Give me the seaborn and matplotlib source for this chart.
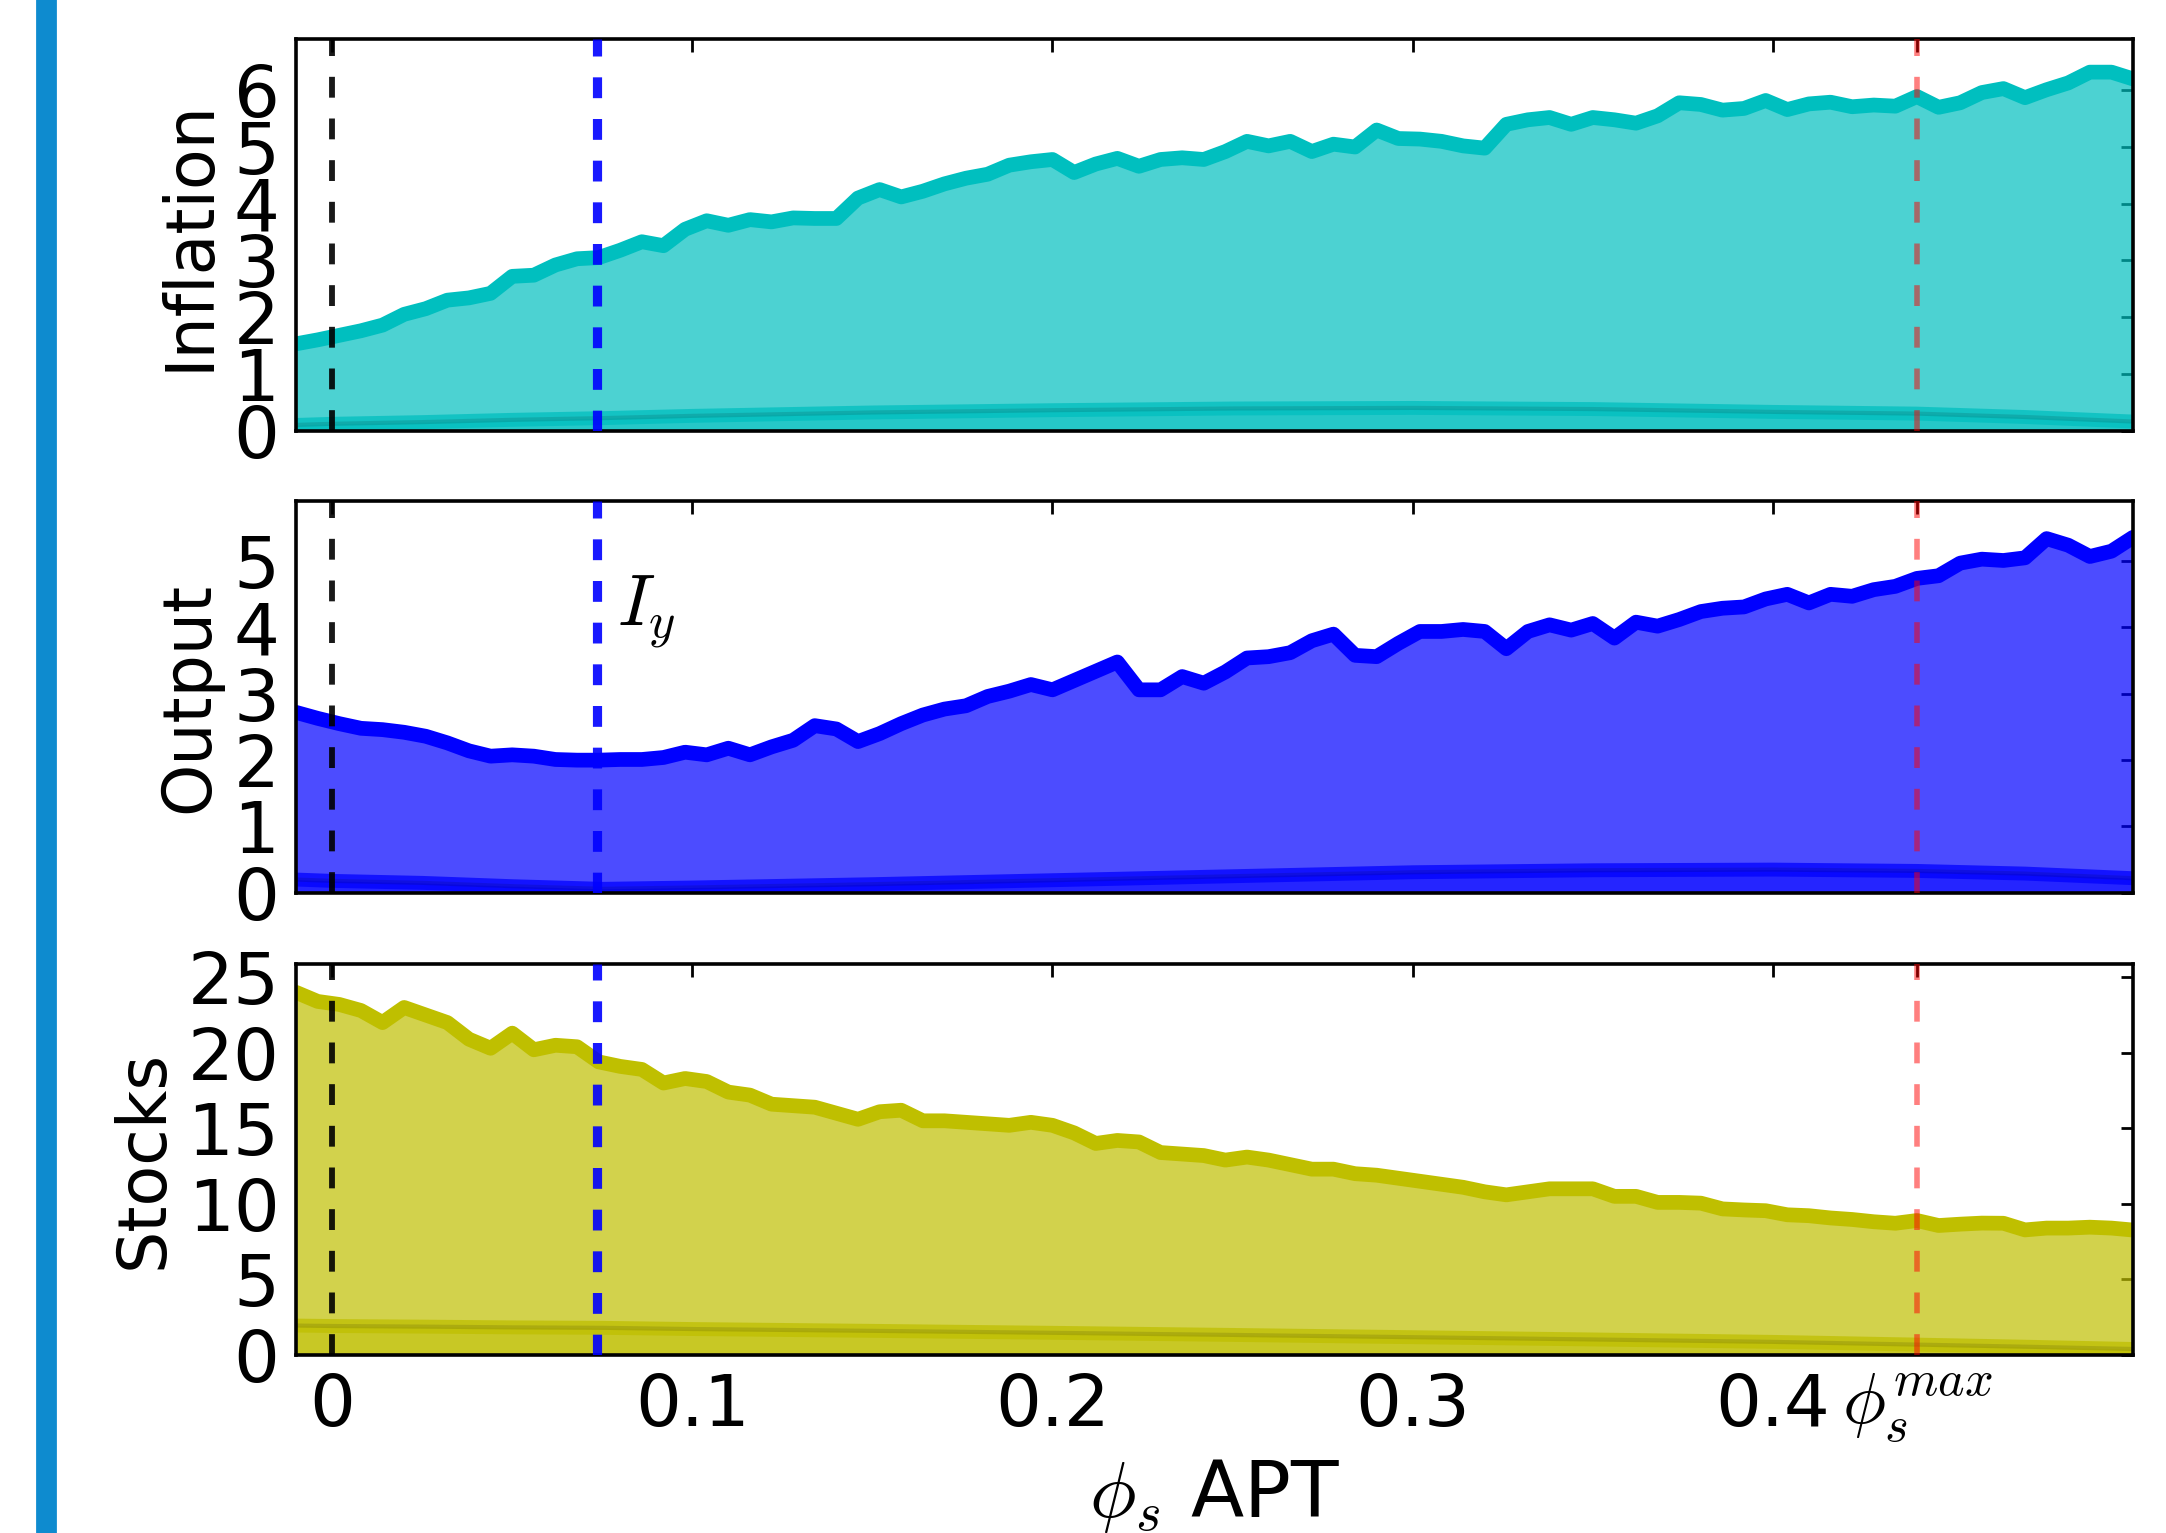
import numpy as np
import pandas as pd
import matplotlib
matplotlib.use("Agg")
import matplotlib.pyplot as plt
from matplotlib.patches import Rectangle
import seaborn as sns

sns.set_theme(style="white")
plt.rcParams["font.family"] = ["DejaVu Sans"]
plt.rcParams["mathtext.fontset"] = "cm"
plt.rcParams["lines.scale_dashes"] = False
plt.rcParams["text.color"] = "black"
plt.rcParams["axes.labelcolor"] = "black"

# parameter grid (phi_s APT), step 0.006
phi = np.round(np.linspace(-0.01, 0.5, 86), 3)

inflation = [1.53, 1.60, 1.68, 1.76, 1.86, 2.05, 2.15, 2.30, 2.34, 2.42,
             2.72, 2.74, 2.92, 3.03, 3.05, 3.18, 3.33, 3.26, 3.55, 3.70,
             3.62, 3.72, 3.68, 3.75, 3.74, 3.74, 4.10, 4.25, 4.12, 4.22,
             4.35, 4.45, 4.52, 4.68, 4.74, 4.78, 4.55, 4.70, 4.80, 4.66,
             4.78, 4.81, 4.78, 4.92, 5.10, 5.02, 5.10, 4.92, 5.05, 5.00,
             5.30, 5.15, 5.14, 5.10, 5.02, 4.98, 5.40, 5.48, 5.52, 5.40,
             5.52, 5.48, 5.42, 5.55, 5.78, 5.75, 5.65, 5.68, 5.82, 5.66,
             5.76, 5.79, 5.71, 5.74, 5.72, 5.89, 5.70, 5.78, 5.96, 6.03,
             5.87, 6.01, 6.13, 6.32, 6.32, 6.20]

output = [2.72, 2.63, 2.55, 2.48, 2.46, 2.42, 2.36, 2.26, 2.14, 2.06,
          2.08, 2.06, 2.01, 2.00, 2.00, 2.01, 2.01, 2.04, 2.12, 2.08,
          2.18, 2.08, 2.20, 2.30, 2.52, 2.47, 2.28, 2.40, 2.55, 2.68,
          2.77, 2.82, 2.96, 3.04, 3.14, 3.06, 3.20, 3.34, 3.48, 3.06,
          3.06, 3.26, 3.16, 3.33, 3.54, 3.56, 3.62, 3.80, 3.90, 3.58,
          3.56, 3.76, 3.94, 3.94, 3.97, 3.94, 3.68, 3.94, 4.04, 3.96,
          4.06, 3.84, 4.08, 4.02, 4.12, 4.24, 4.29, 4.31, 4.43, 4.50,
          4.37, 4.50, 4.47, 4.57, 4.62, 4.74, 4.78, 4.97, 5.03, 5.01,
          5.05, 5.34, 5.24, 5.07, 5.15, 5.36]

stocks = [24.0, 23.4, 23.2, 22.8, 22.0, 23.0, 22.5, 22.0, 20.9, 20.3,
          21.3, 20.2, 20.5, 20.4, 19.4, 19.1, 18.9, 18.0, 18.3, 18.1,
          17.4, 17.2, 16.6, 16.5, 16.4, 16.0, 15.6, 16.1, 16.2, 15.5,
          15.5, 15.4, 15.3, 15.2, 15.4, 15.2, 14.7, 14.0, 14.2, 14.1,
          13.4, 13.3, 13.2, 12.9, 13.1, 12.9, 12.6, 12.3, 12.3, 12.0,
          11.9, 11.7, 11.5, 11.3, 11.1, 10.8, 10.6, 10.8, 11.0, 11.0,
          11.0, 10.5, 10.5, 10.1, 10.1, 10.05, 9.67, 9.60, 9.55, 9.28,
          9.22, 9.07, 8.97, 8.82, 8.72, 8.90, 8.57, 8.66, 8.73, 8.72,
          8.28, 8.40, 8.40, 8.46, 8.40, 8.27]

# second (small) series on a coarse grid
phi2 = [-0.01, 0.0, 0.025, 0.05, 0.075, 0.1, 0.15, 0.2, 0.25, 0.3,
        0.35, 0.4, 0.44, 0.47, 0.5]
inflation2 = [0.10, 0.12, 0.15, 0.19, 0.22, 0.26, 0.32, 0.36, 0.39, 0.40,
              0.38, 0.33, 0.30, 0.24, 0.16]
output2 = [0.20, 0.18, 0.15, 0.10, 0.06, 0.08, 0.13, 0.19, 0.25, 0.31,
           0.34, 0.35, 0.33, 0.29, 0.22]
stocks2 = [1.95, 1.92, 1.88, 1.83, 1.80, 1.72, 1.60, 1.47, 1.33, 1.18,
           1.03, 0.87, 0.69, 0.55, 0.40]

phi_Iy = 0.0735
phi_max = 0.44

xticks = [0, 0.1, 0.2, 0.3, 0.4, phi_max]
xticklabels = ["0", "0.1", "0.2", "0.3", "0.4", r"$\phi_s^{max}$"]

df = pd.DataFrame({"phi": phi, "Inflation": inflation,
                   "Output": output, "Stocks": stocks})
df2 = pd.DataFrame({"phi": phi2, "Inflation": inflation2,
                    "Output": output2, "Stocks": stocks2})

panels = [("Inflation", "#00bfbf", 6.9, list(range(0, 7))),
          ("Output", "#0000ff", 5.9, list(range(0, 6))),
          ("Stocks", "#bfbf00", 25.9, list(range(0, 26, 5)))]

fig, axes = plt.subplots(3, 1, figsize=(10.83, 7.665), dpi=200, sharex=True)
fig.subplots_adjust(left=0.1367, right=0.9848, top=0.9744, bottom=0.1161,
                    hspace=0.181)

for ax, (name, col, ymax, yt) in zip(axes, panels):
    ax.fill_between(df["phi"], 0, df[name], color=col, alpha=0.7, lw=0)
    ax.fill_between(df2["phi"], 0, df2[name], color=col, alpha=0.5, lw=0)
    sns.lineplot(data=df2, x="phi", y=name, ax=ax, color=col, lw=5,
                 alpha=0.75)
    sns.lineplot(data=df2, x="phi", y=name, ax=ax, color="#000000", lw=1.5,
                 alpha=0.12)
    sns.lineplot(data=df, x="phi", y=name, ax=ax, color=col, lw=5.3)

    ax.axvline(0, color="#000000", lw=2.1, alpha=0.9, dashes=(7.5, 7.5),
               zorder=5)
    ax.axvline(phi_Iy, color="#0000ff", lw=3.3, alpha=0.9, dashes=(7.5, 7.5),
               zorder=5)
    ax.axvline(phi_max, color="#ff0000", lw=2.0, alpha=0.5, dashes=(7.5, 7.5),
               zorder=5)

    ax.set_xlim(-0.01, 0.5)
    ax.set_ylim(0, ymax)
    ax.set_yticks(yt)
    ax.set_xticks(xticks)
    ax.set_ylabel(name, fontsize=24)
    ax.set_xlabel("")
    ax.tick_params(direction="in", top=True, right=True, length=4.5,
                   width=1, labelsize=26, pad=6, colors="black")
    for sp in ax.spines.values():
        sp.set_color("black")
        sp.set_linewidth(1.3)

axes[2].set_xticklabels(xticklabels)
axes[2].set_xlabel(r"$\phi_s$ APT", fontsize=28)
axes[1].text(0.079, 4.03, r"$I_y$", fontsize=26, va="baseline")

fig.patches.append(Rectangle((0.0173, 0), 0.0083, 1, transform=fig.transFigure,
                             color="#0e8bcf", zorder=0))

fig.savefig("out.png", dpi=200)
